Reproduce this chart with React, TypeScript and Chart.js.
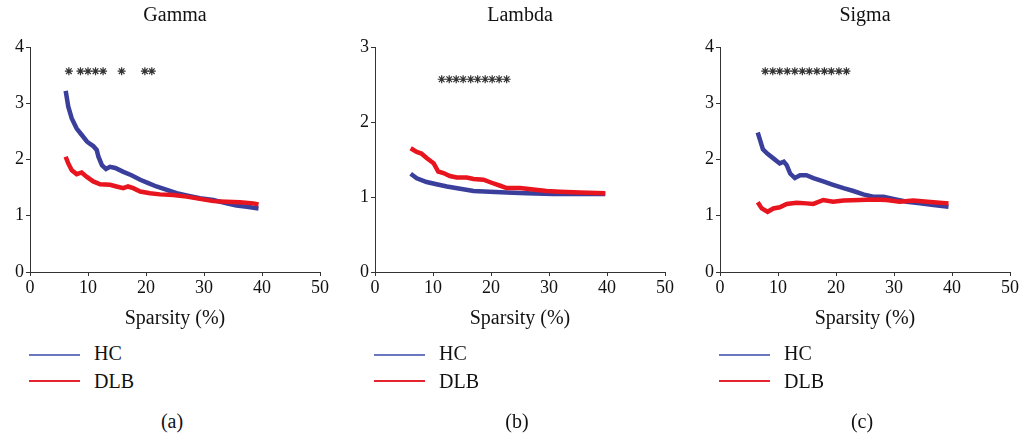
import React, { useEffect, useRef } from "react";
import { Chart, registerables } from "chart.js";

Chart.register(...registerables);

// ---------- data ----------
const panelTitles = ["Gamma", "Lambda", "Sigma"];
const panelCaptions = ["(a)", "(b)", "(c)"];
const seriesNames = ["HC", "DLB"];
const xTickValues = [0, 10, 20, 30, 40, 50];
const yMaxValues = [4, 3, 4];
const xAxisLabel = "Sparsity (%)";

// Gamma
const gammaHCx = [6.15, 6.6, 7.2, 8.05, 8.9, 9.8, 10.3, 10.9, 11.5, 11.8, 12.4, 13.1, 13.8, 14.7, 16.1, 17.5, 19.0, 20.4, 21.8, 23.6, 25.3, 27.0, 29.3, 31.6, 33.9, 35.6, 37.4, 39.4];
const gammaHCy = [3.22, 2.94, 2.73, 2.55, 2.44, 2.32, 2.28, 2.24, 2.17, 2.05, 1.9, 1.83, 1.87, 1.85, 1.78, 1.72, 1.64, 1.58, 1.52, 1.46, 1.4, 1.36, 1.31, 1.28, 1.22, 1.18, 1.16, 1.13];
const gammaDLBx = [6.15, 6.6, 7.2, 8.05, 8.9, 9.8, 10.9, 12.1, 13.8, 14.9, 16.1, 16.9, 17.8, 19.0, 20.7, 22.4, 24.7, 27.0, 29.3, 31.6, 33.9, 36.2, 38.5, 39.4];
const gammaDLBy = [2.05, 1.93, 1.81, 1.74, 1.77, 1.69, 1.61, 1.56, 1.55, 1.52, 1.49, 1.52, 1.49, 1.43, 1.4, 1.38, 1.37, 1.34, 1.3, 1.26, 1.25, 1.24, 1.22, 1.2];
const gammaStarX = [6.7, 8.7, 10.0, 11.3, 12.6, 15.8, 19.8, 21.0];
const gammaStarY = 3.57;

// Lambda
const lambdaHCx = [6.15, 7.2, 8.9, 10.6, 12.4, 14.7, 17.0, 19.8, 22.7, 26.1, 30.7, 39.7];
const lambdaHCy = [1.31, 1.25, 1.2, 1.17, 1.14, 1.11, 1.08, 1.07, 1.06, 1.05, 1.04, 1.04];
const lambdaDLBx = [6.15, 7.2, 8.0, 8.9, 10.1, 10.9, 11.8, 12.9, 14.1, 15.8, 17.0, 18.7, 20.1, 21.6, 22.7, 25.0, 27.3, 29.6, 31.9, 35.3, 39.7];
const lambdaDLBy = [1.65, 1.6, 1.58, 1.52, 1.45, 1.34, 1.32, 1.28, 1.26, 1.26, 1.24, 1.23, 1.19, 1.15, 1.12, 1.12, 1.1, 1.08, 1.07, 1.06, 1.05];
const lambdaStarX = [11.5, 12.8, 14.0, 15.2, 16.5, 17.7, 19.0, 20.2, 21.4, 22.7];
const lambdaStarY = 2.57;

// Sigma
const sigmaHCx = [6.5, 6.9, 7.4, 8.2, 9.2, 10.3, 11.0, 11.5, 12.1, 12.9, 13.8, 14.9, 16.1, 17.8, 19.5, 21.3, 23.0, 24.7, 26.4, 28.2, 29.9, 32.2, 34.5, 36.8, 39.4];
const sigmaHCy = [2.48, 2.35, 2.18, 2.1, 2.02, 1.93, 1.96, 1.9, 1.75, 1.67, 1.72, 1.72, 1.67, 1.61, 1.55, 1.49, 1.44, 1.38, 1.34, 1.34, 1.3, 1.25, 1.22, 1.19, 1.16];
const sigmaDLBx = [6.5, 7.2, 8.2, 9.2, 10.3, 11.5, 13.2, 14.9, 16.1, 17.8, 19.5, 21.3, 24.1, 26.4, 28.7, 31.0, 33.3, 36.8, 39.4];
const sigmaDLBy = [1.24, 1.13, 1.07, 1.13, 1.15, 1.21, 1.23, 1.22, 1.21, 1.28, 1.25, 1.27, 1.28, 1.29, 1.28, 1.25, 1.27, 1.24, 1.22];
const sigmaStarX = [7.8, 9.1, 10.3, 11.6, 12.9, 14.2, 15.4, 16.7, 18.0, 19.2, 20.5, 21.8];
const sigmaStarY = 3.57;

const panels = [
  { hcX: gammaHCx, hcY: gammaHCy, dlbX: gammaDLBx, dlbY: gammaDLBy, starX: gammaStarX, starY: gammaStarY },
  { hcX: lambdaHCx, hcY: lambdaHCy, dlbX: lambdaDLBx, dlbY: lambdaDLBy, starX: lambdaStarX, starY: lambdaStarY },
  { hcX: sigmaHCx, hcY: sigmaHCy, dlbX: sigmaDLBx, dlbY: sigmaDLBy, starX: sigmaStarX, starY: sigmaStarY },
];

// ---------- style ----------
const FONT = "'Liberation Serif', 'Times New Roman', serif";
const BLUE = "#3b3f9c";
const RED = "#e8141e";
const LEGEND_BLUE = "#6b78bd";
const LEGEND_RED = "#e62430";
const AXIS = "#333333";
const TEXT = "#111111";
const chartLefts = [30, 375, 720];

function pts(xs: number[], ys: number[]) {
  return xs.map((x, i) => ({ x, y: ys[i] }));
}

function Panel({ idx }: { idx: number }) {
  const ref = useRef<HTMLCanvasElement | null>(null);
  useEffect(() => {
    const p = panels[idx];
    const chart = new Chart(ref.current as HTMLCanvasElement, {
      type: "line",
      data: {
        datasets: [
          {
            type: "scatter",
            label: "sig",
            data: p.starX.map((x) => ({ x, y: p.starY })),
            pointStyle: "star",
            pointRadius: 4,
            borderColor: "#333",
            backgroundColor: "#333",
            borderWidth: 1.2,
            showLine: false,
            order: 0,
          } as any,
          {
            label: seriesNames[1],
            data: pts(p.dlbX, p.dlbY),
            borderColor: RED,
            borderWidth: 4.5,
            pointRadius: 0,
            tension: 0,
            order: 1,
          },
          {
            label: seriesNames[0],
            data: pts(p.hcX, p.hcY),
            borderColor: BLUE,
            borderWidth: 4.5,
            pointRadius: 0,
            tension: 0,
            order: 2,
          },
        ],
      },
      options: {
        animation: false,
        responsive: false,
        events: [],
        layout: { padding: { left: 0, right: 30, top: 0, bottom: 0 } },
        plugins: {
          legend: { display: false },
          tooltip: { enabled: false },
          title: {
            display: true,
            text: panelTitles[idx],
            fullSize: false,
            color: TEXT,
            font: { family: FONT, size: 20, weight: "normal" },
            padding: { top: 3.5, bottom: 19.5 },
          },
        },
        scales: {
          x: {
            type: "linear",
            min: 0,
            max: 50,
            afterBuildTicks: (s: any) => {
              s.ticks = xTickValues.map((v) => ({ value: v }));
            },
            afterFit: (s: any) => {
              s.height = 68;
            },
            ticks: { color: TEXT, font: { family: FONT, size: 18 }, padding: 1, maxRotation: 0 },
            grid: { drawOnChartArea: false, drawTicks: true, tickLength: 4, color: AXIS },
            border: { display: true, color: AXIS, width: 1 },
            title: {
              display: true,
              text: xAxisLabel,
              color: TEXT,
              font: { family: FONT, size: 20 },
              padding: { top: 0, bottom: 9 },
            },
          },
          y: {
            type: "linear",
            min: 0,
            max: yMaxValues[idx],
            afterFit: (s: any) => {
              s.width = 30;
            },
            ticks: { stepSize: 1, color: TEXT, font: { family: FONT, size: 18 }, padding: 2 },
            grid: { drawOnChartArea: false, drawTicks: true, tickLength: 4, color: AXIS },
            border: { display: true, color: AXIS, width: 1 },
          },
        },
      } as any,
    });
    return () => chart.destroy();
  }, [idx]);

  const L = chartLefts[idx];
  const textStyle: React.CSSProperties = {
    position: "absolute",
    fontFamily: FONT,
    fontSize: 20,
    lineHeight: "24px",
    height: 24,
    color: TEXT,
    whiteSpace: "nowrap",
  };
  return (
    <>
      <canvas
        ref={ref}
        width={350}
        height={340}
        style={{ position: "absolute", left: L - 30, top: 0, width: 350, height: 340 }}
      />
      <div style={{ position: "absolute", left: L - 1, top: 354, width: 51, height: 2, background: LEGEND_BLUE }} />
      <div style={{ ...textStyle, left: L + 64, top: 341 }}>{seriesNames[0]}</div>
      <div style={{ position: "absolute", left: L - 1, top: 380, width: 51, height: 2, background: LEGEND_RED }} />
      <div style={{ ...textStyle, left: L + 64, top: 369 }}>{seriesNames[1]}</div>
      <div style={{ ...textStyle, left: L + 92, width: 100, textAlign: "center", top: 409 }}>{panelCaptions[idx]}</div>
    </>
  );
}

export default function App() {
  return (
    <div
      style={{
        position: "fixed",
        left: 0,
        top: 0,
        width: 1023,
        height: 436,
        background: "#ffffff",
        overflow: "hidden",
      }}
    >
      {[0, 1, 2].map((i) => (
        <Panel key={i} idx={i} />
      ))}
    </div>
  );
}
